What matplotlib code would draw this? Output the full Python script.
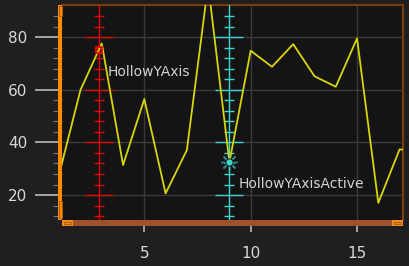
#set up modules
import matplotlib
matplotlib.use('Agg')
import matplotlib.pyplot as plt
from matplotlib.patches import Rectangle

#data
x_vals = [1, 2, 3, 4, 5, 6, 7, 8, 9, 10, 11, 12, 13, 14, 15, 16, 17, 18]
y_vals = [28, 60, 77.7, 31.4, 56.5, 20.6, 37.1, 100, 32.5, 74.9, 68.8, 77.4, 65.2, 61.2, 79.6, 17, 37.4, 36.5]
x_ticks = [5, 10, 15]
y_ticks = [20, 40, 60, 80]
hollow_minor = [12, 16, 24, 28, 32, 36, 44, 48, 52, 56, 64, 68, 72, 76, 84, 88]

#hollow y axes: (x position, y of the point, label, colour)
hollow_x = [2.87, 9]
hollow_y = [75.3, 32.5]
hollow_labels = ['HollowYAxis', 'HollowYAxisActive']
hollow_colors = ['#e60000', '#3fd6d0']

W, H = 409, 266
fig = plt.figure(figsize=(W / 100, H / 100), dpi=100)
fig.patch.set_facecolor('#1f1f1f')

#plot area in pixels: left 62, right 403, top 5, bottom 220
ax = fig.add_axes([62 / W, (H - 220) / H, 341 / W, 215 / H])
ax.set_facecolor('#141414')
ax.set_xlim(1.13, 17.16)
ax.set_ylim(10.5, 92.3)

#grid
ax.set_xticks(x_ticks)
ax.set_yticks(y_ticks)
ax.set_yticks(range(12, 92, 4), minor=True)
ax.grid(True, which='major', color='#3a3a3a', linewidth=1.0)
ax.set_axisbelow(True)

#tick styling
ax.tick_params(axis='y', which='major', length=19.4, width=1.1, color='#c8c8c8',
               labelcolor='#d8d8d8', labelsize=11, pad=5.5)
ax.tick_params(axis='y', which='minor', length=6.5, width=0.8, color='#7a7a7a')
ax.tick_params(axis='x', which='major', length=8.6, width=1.1, color='#c8c8c8',
               labelcolor='#d8d8d8', labelsize=11, pad=10)

#spines - top/right thin brown, left/bottom drawn as bars below
for side in ['left', 'bottom']:
    ax.spines[side].set_visible(False)
for side in ['top', 'right']:
    ax.spines[side].set_color('#7a3d0c')
    ax.spines[side].set_linewidth(1.5)

#main series
ax.plot(x_vals, y_vals, color='#d6d600', linewidth=1.3, zorder=4, clip_on=True)

#hollow y axes with their own ticks
for i in range(len(hollow_x)):
    hx = hollow_x[i]
    c = hollow_colors[i]
    ax.axvline(hx, color=c, linewidth=1.0, zorder=3)
    ax.plot([hx] * len(y_ticks), y_ticks, linestyle='none', marker='_',
            markersize=20, markeredgewidth=1.0, color=c, zorder=3)
    ax.plot([hx] * len(hollow_minor), hollow_minor, linestyle='none', marker='_',
            markersize=6.5, markeredgewidth=1.0, color=c, zorder=3)
    ax.annotate(hollow_labels[i], (hx, hollow_y[i]), xytext=(6.5, -16),
                textcoords='offset points', ha='left', va='center',
                color='#d2d2d2', fontsize=10, zorder=6)

#point markers
ax.plot(hollow_x[0], hollow_y[0], marker='s', markersize=5, markerfacecolor='none',
        markeredgecolor=hollow_colors[0], markeredgewidth=1.3, zorder=5)
ax.plot(hollow_x[1], hollow_y[1], marker=(8, 2, 0), markersize=12, markeredgewidth=1.0,
        color=hollow_colors[1], alpha=0.6, zorder=5)
ax.plot(hollow_x[1], hollow_y[1], marker='o', markersize=6, markeredgewidth=0,
        markerfacecolor='#141414', zorder=5)
ax.plot(hollow_x[1], hollow_y[1], marker='o', markersize=4.5, markeredgewidth=0,
        markerfacecolor=hollow_colors[1], zorder=5)

#axis bars drawn in figure pixels (top-left origin)
def px_rect(x0, y0, w, h, **kw):
    r = Rectangle((x0 / W, 1 - (y0 + h) / H), w / W, h / H, transform=fig.transFigure, **kw)
    fig.add_artist(r)

#left orange bar with handles
px_rect(58, 5, 4.5, 215, facecolor='#ff8c00', edgecolor='none')
px_rect(59, 6, 2.5, 10, facecolor='none', edgecolor='#b05a00', linewidth=0.7)
px_rect(59, 201, 2.5, 17, facecolor='none', edgecolor='#b05a00', linewidth=0.7)
#bottom sienna bar with handles
px_rect(62, 220, 341, 6, facecolor='#a0522d', edgecolor='none')
px_rect(62, 220, 11, 6, facecolor='#f08a1c', edgecolor='none')
px_rect(392, 220, 11, 6, facecolor='#f08a1c', edgecolor='none')
px_rect(64, 222, 7, 2, facecolor='none', edgecolor='#a85a10', linewidth=0.6)
px_rect(394, 222, 7, 2, facecolor='none', edgecolor='#a85a10', linewidth=0.6)

plt.savefig('out.png', dpi=100, facecolor=fig.get_facecolor())
